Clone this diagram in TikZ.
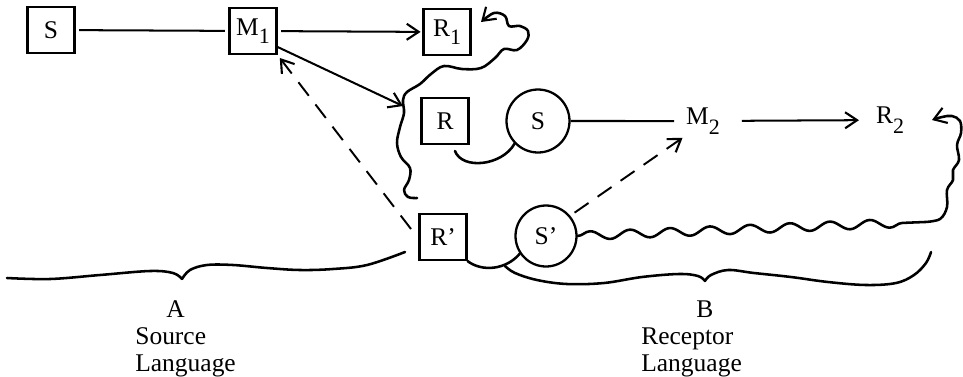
\documentclass[tikz,border=0pt]{standalone}
\usepackage{fontspec}
\setmainfont{Liberation Serif}
\usetikzlibrary{arrows.meta, positioning, decorations.pathmorphing}

% lowered index digit, set nearly full size as in the printed figure
\newcommand{\idx}[2][0.33em]{\raisebox{-#1}{\fontsize{12.5}{13}\selectfont #2}}

\begin{document}
\begin{tikzpicture}[
    x=0.02cm, y=-0.02cm,
    >={Straight Barb[length=2.4mm, width=3.2mm, line width=1.2pt]},
    % Styles
    every node/.style={font=\fontsize{14.5}{15.5}\selectfont},
    box/.style={draw, rectangle, minimum width=0.94cm, minimum height=0.92cm, inner sep=0pt, line width=1.3pt},
    ring/.style={draw, circle, minimum size=#1, inner sep=0pt, line width=1.3pt},
    link/.style={line width=1.15pt},
    hint/.style={->, line width=1.1pt, dash pattern=on 0.34cm off 0.22cm},
    squiggle/.style={line width=1.45pt, line join=round, line cap=round},
    caption/.style={align=left, anchor=north west, inner sep=0pt, font=\fontsize{14.5}{15.5}\selectfont},
]
\useasboundingbox (0,0) rectangle (963,376);

% ── Source side ──
\node[box] (s)  at (51,30)  {S};
\node[box] (m1) at (253,31) {M\idx{1}};
\node[box] (r1) at (447,32) {R\idx{1}};

\draw[link, shorten <=2pt, shorten >=2pt] (s) -- (m1);
\draw[link, ->, shorten <=2pt, shorten >=1pt] (m1) -- (r1);

% ── Receptor side ──
\node[box] (r)  at (445,121) {R};
\node[ring=1.26cm] (s2) at (538,121) {S};
\node[anchor=base west, inner sep=1pt] (m2) at (684,124) {M\idx[0.42em]{2}};
\node[anchor=base west, inner sep=1pt] (r2) at (874,123) {R\idx[0.42em]{2}};

\node[box] (rp) at (443,237) {R'};
\node[ring=1.22cm] (sp) at (546,236) {S'};

\draw[link, shorten >=0.2cm] (s2) -- (m2);
\draw[link, ->, shorten <=0.4cm, shorten >=0.3cm] (m2) -- (r2);

% ── Boundary of the receptor language ──
\coordinate (bay) at (403,106);
\draw[squiggle, ->] plot[smooth, tension=0.6] coordinates {
    (417,198) (408,197) (404,190) (409,180) (410,168) (401,157) (397,143)
    (400,127) (404,113) (403,100) (407,92) (420,84) (431,74) (444,66)
    (462,69) (481,68) (495,58) (504,49) (517,50) (527,40) (528,31)
    (520,26) (509,26) (505,16) (494,13) (481,22)};

\draw[link, ->] (m1.-33) -- (bay);

% ── Transfer ──
\coordinate (rtail) at (411,229);
\draw[hint, shorten >=2pt] (rtail) -- (m1.south east);
\draw[hint, shorten <=3pt, shorten >=1pt] (sp.40) -- (m2.south west);

% hooks between the receptor and the new source
\coordinate (rhook) at (455,151);
\draw[squiggle] (rhook) .. controls (462,170) and (502,166) .. (s2.224);
\draw[squiggle] (rp.south east) .. controls (482,272) and (506,270) .. (sp.214);

% feedback from S' round to R2
\coordinate (kink) at (925,222);
\draw[squiggle, decorate, decoration={snake, segment length=0.8cm, amplitude=0.085cm, post length=1mm}]
    (sp.east) -- (kink);
\draw[squiggle, ->] plot[smooth, tension=0.6] coordinates {
    (kink) (940,219) (947,207) (947,190) (953,180) (953,170) (959,160)
    (957,145) (961,133) (960,121) (952,116) (942,117) (932,120)};

% ── Language braces ──
\draw[squiggle] plot[smooth, tension=0.6] coordinates {
    (7,278) (50,279) (100,275) (150,271) (173,273) (182,279)}
    plot[smooth, tension=0.6] coordinates {
    (182,279) (190,270) (207,265) (233,265) (267,268) (300,270)
    (333,269) (367,265) (405,252)};
\draw[squiggle] plot[smooth, tension=0.6] coordinates {
    (505,266) (515,273) (537,280) (567,284) (604,283) (642,277)
    (679,274) (698,276) (705,281)}
    plot[smooth, tension=0.6] coordinates {
    (705,281) (711,275) (728,270) (754,273) (791,277) (828,282)
    (866,285) (896,283) (914,275) (926,263) (931,252)};

\node[caption] (langA) at (135,300) {\hspace*{0.62cm}A\\Source\\Language};
\node[caption] (langB) at (641,300) {\hspace*{1.1cm}B\\Receptor\\Language};

\end{tikzpicture}
\end{document}
